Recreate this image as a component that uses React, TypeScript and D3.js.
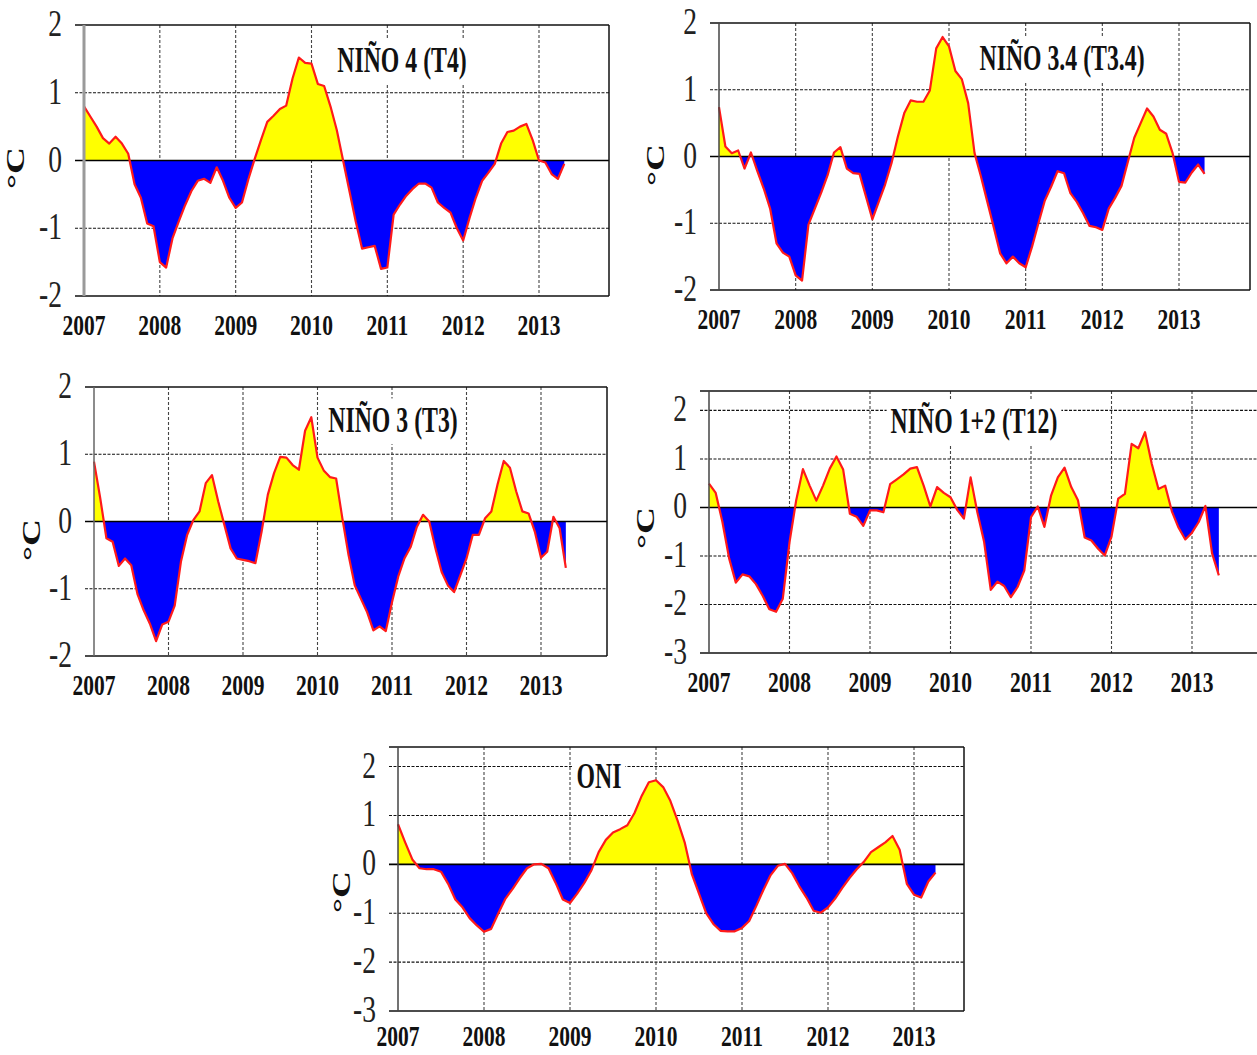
import * as d3 from "d3";
import * as React from "react";

const YEARS = [2007, 2008, 2009, 2010, 2011, 2012, 2013];

// monthly anomalies (°C), Jan 2007 onward
const NINO4 = [0.80, 0.65, 0.50, 0.33, 0.25, 0.35, 0.25, 0.10, -0.35, -0.55,
  -0.93, -0.97, -1.50, -1.58, -1.15, -0.90, -0.66, -0.45, -0.30, -0.27,
  -0.33, -0.10, -0.30, -0.55, -0.70, -0.62, -0.28, 0.02, 0.30, 0.57,
  0.66, 0.76, 0.81, 1.21, 1.52, 1.44, 1.43, 1.13, 1.10, 0.80,
  0.45, 0.00, -0.45, -0.90, -1.30, -1.28, -1.26, -1.60, -1.58, -0.80,
  -0.65, -0.52, -0.42, -0.34, -0.34, -0.40, -0.62, -0.70, -0.77, -1.00,
  -1.18, -0.85, -0.55, -0.30, -0.18, -0.05, 0.25, 0.42, 0.44, 0.50,
  0.54, 0.30, 0.00, -0.03, -0.20, -0.27, -0.05];

const NINO34 = [0.74, 0.15, 0.05, 0.09, -0.18, 0.06, -0.22, -0.48, -0.78, -1.30,
  -1.44, -1.50, -1.78, -1.86, -1.02, -0.78, -0.54, -0.28, 0.06, 0.14,
  -0.18, -0.25, -0.26, -0.60, -0.94, -0.68, -0.42, -0.10, 0.30, 0.65,
  0.84, 0.82, 0.82, 0.99, 1.62, 1.79, 1.65, 1.28, 1.16, 0.80,
  0.05, -0.30, -0.68, -1.06, -1.45, -1.60, -1.50, -1.60, -1.66, -1.35,
  -1.00, -0.66, -0.45, -0.22, -0.25, -0.55, -0.68, -0.85, -1.04, -1.06,
  -1.10, -0.78, -0.62, -0.44, -0.08, 0.28, 0.50, 0.72, 0.60, 0.40,
  0.34, 0.05, -0.38, -0.39, -0.24, -0.12, -0.26];

const NINO3 = [0.89, 0.35, -0.25, -0.30, -0.66, -0.55, -0.65, -1.08, -1.32, -1.52,
  -1.78, -1.53, -1.49, -1.25, -0.60, -0.20, 0.02, 0.15, 0.57, 0.69,
  0.30, -0.05, -0.40, -0.55, -0.57, -0.59, -0.62, -0.15, 0.40, 0.72,
  0.96, 0.95, 0.84, 0.77, 1.35, 1.55, 0.95, 0.76, 0.66, 0.64,
  0.05, -0.50, -0.95, -1.15, -1.35, -1.62, -1.56, -1.63, -1.20, -0.82,
  -0.55, -0.38, -0.08, 0.10, 0.00, -0.40, -0.75, -0.95, -1.05, -0.80,
  -0.55, -0.20, -0.20, 0.05, 0.15, 0.55, 0.90, 0.80, 0.45, 0.15,
  0.12, -0.15, -0.54, -0.45, 0.07, -0.10, -0.69];

const NINO12 = [0.49, 0.30, -0.30, -1.05, -1.55, -1.38, -1.42, -1.58, -1.82, -2.10,
  -2.15, -1.88, -0.72, 0.15, 0.79, 0.45, 0.14, 0.45, 0.80, 1.05,
  0.78, -0.13, -0.19, -0.38, -0.06, -0.06, -0.10, 0.48, 0.58, 0.68,
  0.80, 0.83, 0.45, 0.02, 0.42, 0.30, 0.21, -0.05, -0.23, 0.62,
  -0.10, -0.70, -1.70, -1.53, -1.62, -1.85, -1.64, -1.30, -0.20, 0.02,
  -0.40, 0.25, 0.62, 0.82, 0.42, 0.15, -0.62, -0.68, -0.85, -0.99,
  -0.60, 0.18, 0.28, 1.31, 1.22, 1.55, 0.90, 0.38, 0.45, -0.08,
  -0.42, -0.66, -0.52, -0.30, 0.03, -0.95, -1.40];

const ONI = [0.82, 0.45, 0.10, -0.08, -0.10, -0.10, -0.15, -0.40, -0.72, -0.88,
  -1.10, -1.25, -1.38, -1.32, -1.00, -0.70, -0.50, -0.28, -0.08, 0.00,
  0.01, -0.08, -0.38, -0.72, -0.79, -0.60, -0.38, -0.12, 0.25, 0.50,
  0.65, 0.72, 0.80, 1.05, 1.40, 1.68, 1.72, 1.58, 1.30, 0.90,
  0.45, -0.20, -0.60, -1.00, -1.22, -1.36, -1.37, -1.37, -1.30, -1.16,
  -0.85, -0.52, -0.22, -0.03, 0.01, -0.18, -0.45, -0.68, -0.95, -0.99,
  -0.88, -0.70, -0.48, -0.28, -0.10, 0.05, 0.25, 0.35, 0.45, 0.58,
  0.30, -0.40, -0.62, -0.68, -0.35, -0.17];

const TICKS_A = [-2, -1, 0, 1, 2];
const TICKS_B = [-3, -2, -1, 0, 1, 2];

const panels = [
  { id: "p1", title: "NIÑO 4 (T4)", values: NINO4, yDomain: [-2, 2], ticks: TICKS_A,
    left: 84, x2013: 539, right: 609, top: 25, bottom: 296, yearGap: 39,
    title_x: 402, title_y: 72, unit_x: 15, unit_y: 168, axisColor: "#9a9a9a", axisWidth: 3 },
  { id: "p2", title: "NIÑO 3.4 (T3.4)", values: NINO34, yDomain: [-2, 2], ticks: TICKS_A,
    left: 719, x2013: 1179, right: 1250, top: 23, bottom: 290, yearGap: 39,
    title_x: 1062, title_y: 70, unit_x: 655, unit_y: 165, axisColor: "#444", axisWidth: 1.5 },
  { id: "p3", title: "NIÑO 3 (T3)", values: NINO3, yDomain: [-2, 2], ticks: TICKS_A,
    left: 94, x2013: 541, right: 607, top: 387, bottom: 656, yearGap: 39,
    title_x: 393, title_y: 432, unit_x: 31, unit_y: 540, axisColor: "#666", axisWidth: 1.5 },
  { id: "p4", title: "NIÑO 1+2 (T12)", values: NINO12, yDomain: [-3, 2.4], ticks: TICKS_B,
    left: 709, x2013: 1192, right: 1262, top: 391, bottom: 653, yearGap: 39,
    title_x: 974, title_y: 433, unit_x: 645, unit_y: 528, axisColor: "#444", axisWidth: 1.5 },
  { id: "p5", title: "ONI", values: ONI, yDomain: [-3, 2.4], ticks: TICKS_B,
    left: 398, x2013: 914, right: 964, top: 747, bottom: 1011, yearGap: 35,
    title_x: 599, title_y: 788, unit_x: 341, unit_y: 892, axisColor: "#444", axisWidth: 1.5 },
];

const FONT = "'Liberation Serif', 'Times New Roman', serif";

export default function App() {
  const ref = React.useRef<SVGSVGElement>(null);

  React.useEffect(() => {
    const svg = d3.select(ref.current);
    svg.selectAll("*").remove();
    const defs = svg.append("defs");

    panels.forEach(p => {
      const x = d3.scaleLinear().domain([0, 72]).range([p.left, p.x2013]);
      const y = d3.scaleLinear().domain(p.yDomain).range([p.bottom, p.top]);
      const g = svg.append("g");
      const y0 = y(0);

      // horizontal grid (also acts as tick marks left of the axis)
      g.append("g")
        .selectAll("line")
        .data(p.ticks.filter(t => t !== 0 && y(t) > p.top + 1 && y(t) < p.bottom - 1))
        .join("line")
        .attr("x1", p.left - 9).attr("x2", p.right)
        .attr("y1", d => y(d)).attr("y2", d => y(d))
        .attr("stroke", "#111").attr("stroke-width", 1.1)
        .attr("stroke-dasharray", "3,1.5");

      // vertical year grid
      g.append("g")
        .selectAll("line")
        .data(YEARS.slice(1))
        .join("line")
        .attr("x1", (d, i) => x((i + 1) * 12)).attr("x2", (d, i) => x((i + 1) * 12))
        .attr("y1", p.top).attr("y2", p.bottom)
        .attr("stroke", "#444").attr("stroke-width", 1.1)
        .attr("stroke-dasharray", "3,2");

      // title with white box
      const tg = g.append("g").attr("transform", `translate(${p.title_x},${p.title_y})`);
      tg.append("text")
        .attr("transform", "scale(0.82,1.2)")
        .attr("text-anchor", "middle")
        .attr("font-family", FONT)
        .attr("font-weight", "bold")
        .attr("font-size", 29)
        .attr("fill", "#111")
        .text(p.title);
      const bb = (tg.node() as SVGGElement).getBBox();
      tg.insert("rect", "text")
        .attr("x", bb.x - 4).attr("y", bb.y - 2)
        .attr("width", bb.width + 8).attr("height", bb.height + 6)
        .attr("fill", "#fff");

      // fills
      const area = d3.area<number>()
        .x((d, i) => x(i))
        .y0(y0)
        .y1(d => y(d));
      const line = d3.line<number>()
        .x((d, i) => x(i))
        .y(d => y(d));

      defs.append("clipPath").attr("id", `${p.id}-up`)
        .append("rect").attr("x", p.left).attr("y", p.top)
        .attr("width", p.right - p.left).attr("height", y0 - p.top);
      defs.append("clipPath").attr("id", `${p.id}-dn`)
        .append("rect").attr("x", p.left).attr("y", y0)
        .attr("width", p.right - p.left).attr("height", p.bottom - y0);

      g.append("path").datum(p.values)
        .attr("d", area).attr("fill", "#ffff00")
        .attr("clip-path", `url(#${p.id}-up)`);
      g.append("path").datum(p.values)
        .attr("d", area).attr("fill", "#0000ff")
        .attr("clip-path", `url(#${p.id}-dn)`);

      // zero line
      g.append("line")
        .attr("x1", p.left - 9).attr("x2", p.right)
        .attr("y1", y0).attr("y2", y0)
        .attr("stroke", "#000").attr("stroke-width", 1.6);

      g.append("path").datum(p.values)
        .attr("d", line)
        .attr("fill", "none")
        .attr("stroke", "#ff1a1a")
        .attr("stroke-width", 2.2)
        .attr("stroke-linejoin", "round");

      // frame
      g.append("line")
        .attr("x1", p.left - 9).attr("x2", p.right)
        .attr("y1", p.top).attr("y2", p.top)
        .attr("stroke", "#111").attr("stroke-width", 1.5);
      g.append("line")
        .attr("x1", p.left - 9).attr("x2", p.right)
        .attr("y1", p.bottom).attr("y2", p.bottom)
        .attr("stroke", "#111").attr("stroke-width", 1.5);
      g.append("line")
        .attr("x1", p.right).attr("x2", p.right)
        .attr("y1", p.top).attr("y2", p.bottom)
        .attr("stroke", "#111").attr("stroke-width", 1.5);
      g.append("line")
        .attr("x1", p.left).attr("x2", p.left)
        .attr("y1", p.top).attr("y2", p.bottom)
        .attr("stroke", p.axisColor).attr("stroke-width", p.axisWidth);

      // y tick labels
      g.append("g")
        .selectAll("text")
        .data(p.ticks)
        .join("text")
        .attr("transform", d => `translate(${p.left - 22},${y(d) + 11}) scale(0.95,1.3)`)
        .attr("text-anchor", "end")
        .attr("font-family", FONT)
        .attr("font-size", 29)
        .attr("fill", "#222")
        .text(d => String(d));

      // year labels
      g.append("g")
        .selectAll("text")
        .data(YEARS)
        .join("text")
        .attr("transform", (d, i) => `translate(${x(i * 12)},${p.bottom + p.yearGap}) scale(0.86,1.2)`)
        .attr("text-anchor", "middle")
        .attr("font-family", FONT)
        .attr("font-weight", "bold")
        .attr("font-size", 25)
        .attr("fill", "#111")
        .text(d => String(d));

      // unit label
      g.append("text")
        .attr("transform", `translate(${p.unit_x},${p.unit_y}) rotate(-90) scale(1.5,1.05)`)
        .attr("text-anchor", "middle")
        .attr("dominant-baseline", "central")
        .attr("font-family", FONT)
        .attr("font-weight", "bold")
        .attr("font-size", 25)
        .attr("fill", "#111")
        .text("°C");
    });
  }, []);

  return (
    <div style={{ position: "absolute", left: 0, top: 0 }}>
      <svg ref={ref} width={1257} height={1055} style={{ display: "block", background: "#fff" }}></svg>
    </div>
  );
}
